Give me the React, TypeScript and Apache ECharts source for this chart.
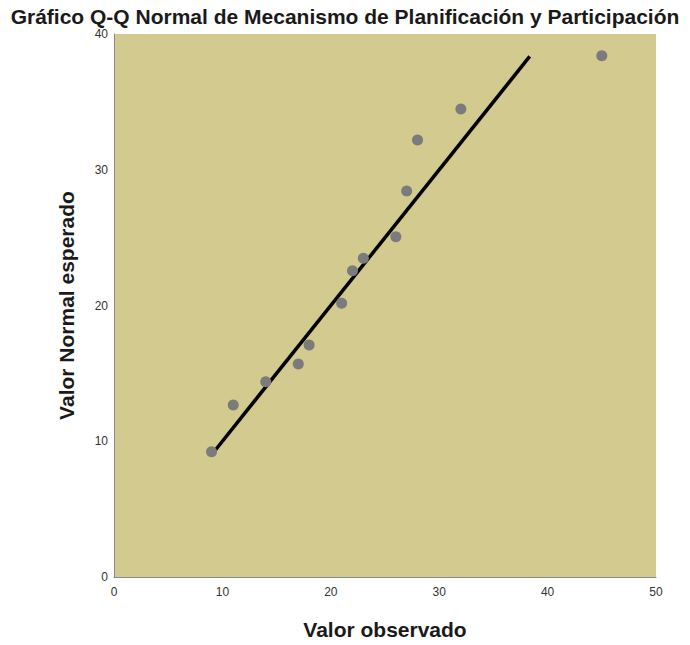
import React, { useEffect, useRef } from "react";
import * as echarts from "echarts";

const titleText = "Gráfico Q-Q Normal de Mecanismo de Planificación y Participación";
const xName = "Valor observado";
const yName = "Valor Normal esperado";
const observed = [9, 11, 14, 17, 18, 21, 22, 23, 26, 27, 28, 32, 45];
const expected = [9.23, 12.67, 14.39, 15.69, 17.09, 20.16, 22.56, 23.48, 25.07, 28.43, 32.19, 34.47, 38.4];
const refLineX = [9.1, 38.35];
const refLineY = [9.1, 38.35];

export default function App() {
  const ref = useRef<HTMLDivElement>(null);
  useEffect(() => {
    if (!ref.current) return;
    const chart = echarts.init(ref.current, null, { renderer: "svg" });
    const font = "'Liberation Sans', Arial, sans-serif";
    chart.setOption({
      animation: false,
      backgroundColor: "#ffffff",
      title: {
        text: titleText,
        left: "center",
        top: 2,
        padding: [2, 5, 2, 5],
        textStyle: { fontFamily: font, fontSize: 21, fontWeight: "bold", color: "#1a1a1a", lineHeight: 24 },
      },
      grid: {
        left: 114,
        top: 34,
        width: 542,
        height: 543,
        show: true,
        backgroundColor: "#d2ca8e",
        borderWidth: 0,
      },
      xAxis: {
        type: "value",
        min: 0,
        max: 50,
        interval: 10,
        name: xName,
        nameLocation: "middle",
        nameGap: 42,
        nameTextStyle: { fontFamily: font, fontSize: 21, fontWeight: "bold", color: "#1a1a1a" },
        axisLine: { show: true, onZero: false, lineStyle: { color: "#8a8a8a", width: 1 } },
        axisTick: { show: false },
        splitLine: { show: false },
        axisLabel: { fontFamily: font, fontSize: 12, color: "#333", margin: 9 },
      },
      yAxis: {
        type: "value",
        min: 0,
        max: 40,
        interval: 10,
        name: yName,
        nameLocation: "middle",
        nameGap: 37,
        nameTextStyle: { fontFamily: font, fontSize: 21, fontWeight: "bold", color: "#1a1a1a" },
        axisLine: { show: true, onZero: false, lineStyle: { color: "#8a8a8a", width: 1 } },
        axisTick: { show: false },
        splitLine: { show: false },
        axisLabel: { fontFamily: font, fontSize: 12, color: "#333", margin: 6 },
      },
      series: [
        {
          type: "line",
          data: refLineX.map((x, i) => [x, refLineY[i]]),
          showSymbol: false,
          symbol: "none",
          lineStyle: { color: "#000", width: 3.5 },
          z: 2,
        },
        {
          type: "scatter",
          data: observed.map((x, i) => [x, expected[i]]),
          symbolSize: 11,
          itemStyle: { color: "#7b7b7b", opacity: 1 },
          z: 3,
        },
      ],
    });
    return () => chart.dispose();
  }, []);
  return (
    <div
      ref={ref}
      style={{ position: "fixed", left: 0, top: 0, width: 690, height: 645 }}
    />
  );
}
